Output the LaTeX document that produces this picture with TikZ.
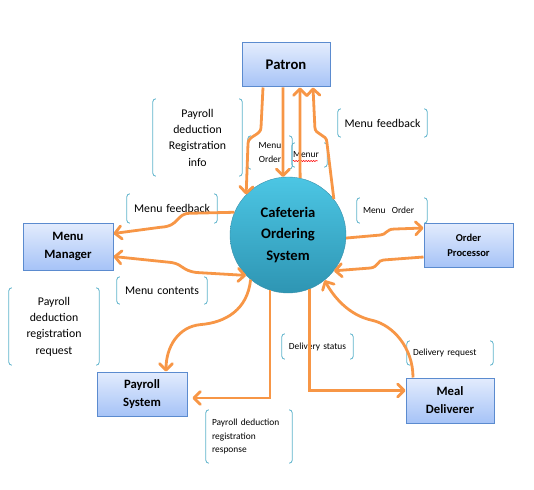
\documentclass[tikz,border=0pt]{standalone}
\usepackage{fontspec}
\setmainfont{Carlito}
\usetikzlibrary{arrows.meta, calc, positioning, decorations.pathmorphing}
\definecolor{flujo}{HTML}{F79646}
\definecolor{cajaarriba}{HTML}{E3ECFD}
\definecolor{cajaabajo}{HTML}{A6C3F7}
\definecolor{cajaborde}{HTML}{5B8BCF}
\definecolor{corchete}{HTML}{5EB3CB}
\definecolor{bolaarriba}{HTML}{4CC6E4}
\definecolor{bolaabajo}{HTML}{2E95B3}
\definecolor{bolaborde}{HTML}{3A90AA}
\tikzset{
	every node/.style={
		font=\fontsize{11.8}{16.3}\selectfont
	},
	entity/.style={
		shape=rectangle,
		top color=cajaarriba,
		bottom color=cajaabajo,
		draw=cajaborde,
		line width=1pt,
		align=center,
		font=\bfseries\fontsize{12.7}{18}\selectfont
	},
	process/.style={
		shape=circle,
		minimum size=116pt,
		top color=bolaarriba,
		bottom color=bolaabajo,
		draw=bolaborde,
		align=center,
		font=\bfseries\fontsize{14.6}{21.5}\selectfont
	},
	note/.style={
		shape=rectangle,
		inner xsep=6pt,
		inner ysep=0pt,
		align=center
	},
	small note/.style={
		note,
		font=\fontsize{9.4}{13.5}\selectfont
	},
	bracket/.style={
		draw=corchete,
		line width=0.8pt,
		rounded corners=3pt
	},
	flow/.style={
		draw=flujo,
		line width=2.8pt,
		>={Straight Barb[length=6.5pt,width=13pt,round]},
		->
	}
}

\begin{document}
\begin{tikzpicture}[x=1pt,y=-1pt]
	\useasboundingbox (0,0) rectangle (534,489);
	
	% entidades
	\node[entity, minimum width=88pt, minimum height=44pt, font=\bfseries\fontsize{14.7}{18}\selectfont] (patron) at (286,65) {Patron};
	\node[entity, minimum width=90pt, minimum height=47pt] (manager) at (68,246.5) {Menu\\Manager};
	\node[entity, minimum width=89pt, minimum height=44pt, font=\bfseries\fontsize{10.5}{15}\selectfont] (processor) at (468.5,245) {Order\\Processor};
	\node[entity, minimum width=90pt, minimum height=44pt] (payroll) at (142,394) {Payroll\\System};
	\node[entity, minimum width=88pt, minimum height=45pt] (deliverer) at (450,400.5) {Meal\\Deliverer};
	\node[process] (cos) at (288,235) {Cafeteria\\Ordering\\System};
	
	% etiquetas
	\node[note, text width=77pt, minimum height=77pt] (reginfo) at (197.5,137.5) {Payroll\\deduction\\Registration\\info};
	\node[small note, text width=32pt, minimum height=33pt] (ordertop) at (270,152.5) {Menu\\Order};
	\node[small note, inner xsep=1pt, text width=33pt, minimum height=24pt, align=left] (menur) at (309.5,155) {Menur};
	\node[note, text width=77pt, minimum height=28pt] (feedtop) at (382.5,123) {Menu feedback};
	\node[note, text width=78pt, minimum height=29pt] (feedleft) at (172,208.5) {Menu feedback};
	\node[note, text width=78pt, minimum height=27pt] (contents) at (162,290.5) {Menu contents};
	\node[note, text width=78pt, minimum height=77pt] (regreq) at (54,326.5) {Payroll\\deduction\\registration\\request};
	\node[small note, text width=58pt, minimum height=25pt, align=left] (orderright) at (392,210.5) {Menu~~Order};
	\node[small note, text width=59pt, minimum height=25pt] (status) at (317.5,346.5) {Delivery status};
	\node[small note, text width=74pt, minimum height=24pt, align=left] (request) at (450,353) {Delivery request};
	\node[small note, text width=74pt, minimum height=53pt, align=left] (response) at (249,436.5) {Payroll deduction\\registration\\response};
	
	\foreach \n in {reginfo,ordertop,menur,feedtop,feedleft,contents,regreq,orderright,status,request,response} {
		\draw[bracket] ([xshift=3pt]\n.north west) -- (\n.north west) -- (\n.south west) -- ([xshift=3pt]\n.south west);
		\draw[bracket] ([xshift=-3pt]\n.north east) -- (\n.north east) -- (\n.south east) -- ([xshift=-3pt]\n.south east);
	}
	\draw[red, line width=0.5pt, decorate, decoration={snake, amplitude=0.6pt, segment length=2.5pt}] ($(menur.base west)+(1,3)$) -- ($(menur.base west)+(26,3)$);
	
	% Patron
	\draw[flow] ([xshift=-23pt]patron.south) -- ++(-2,40) .. controls +(0,8) and +(0,-8) .. ++(-13,16) -- (cos.136);
	\draw[flow] ([xshift=-3pt]patron.south) -- (cos.95);
	\draw[flow] (cos.78) -- ([xshift=14pt]patron.south);
	\draw[flow] (cos.38) -- ++(-7,-57) .. controls +(0,-8) and +(0,8) .. ++(-12,-15) -- ([xshift=27pt]patron.south);
	
	% Menu Manager
	\draw[flow] (cos.157) -- ++(-44,1) .. controls +(-15,0) and +(20,-1) .. ++(-30,14) -- ([yshift=13pt]manager.east);
	\draw[flow, <->] ([yshift=-10pt]manager.east) -- ++(58,6) .. controls +(12,2) and +(-15,-2) .. ++(25,10) -- (cos.224);
	
	% Order Processor
	\draw[flow] (cos.357) -- ++(34,-3) .. controls +(6,0) and +(-8,0) .. ++(14,-6) -- ([yshift=17pt]processor.west);
	\draw[flow] ([yshift=-12pt]processor.west) -- ++(-40,3) .. controls +(-6,0) and +(8,-1) .. ++(-13,8) -- (cos.322);
	
	% Payroll System
	\draw[flow] (cos.230) .. controls +(-3,30) and +(25,-2) .. ++(-50,45) .. controls +(-22,2) and +(0,-25) .. ([xshift=24pt]payroll.north);
	\draw[flow, shorten >=5pt] (cos.252) |- ([yshift=-4pt]payroll.east);
	
	% Meal Deliverer
	\draw[flow] (cos.292) |- ([yshift=10pt]deliverer.west);
	\draw[flow] ([xshift=-37pt]deliverer.north) .. controls +(0,-30) and +(20,5) .. ++(-40,-57) .. controls +(-25,-5) and +(8,15) .. (cos.309);
	
\end{tikzpicture}
\end{document}
